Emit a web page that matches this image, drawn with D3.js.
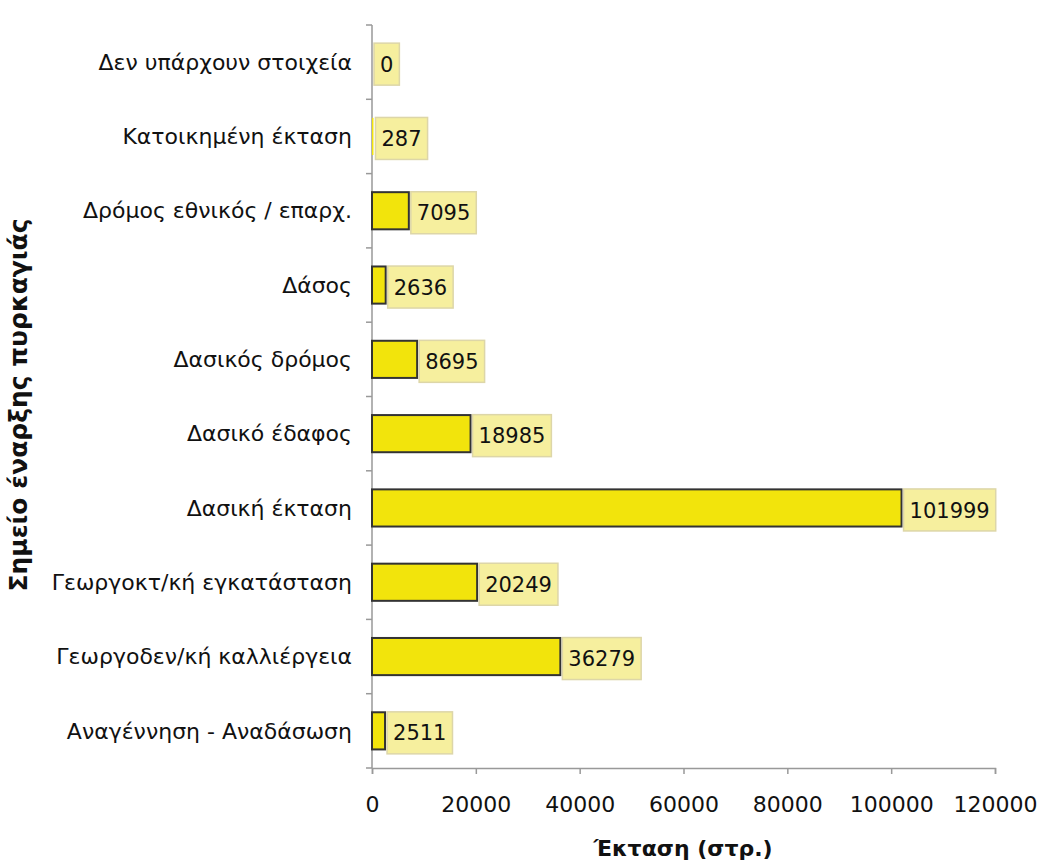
<!DOCTYPE html>
<html>
<head>
<meta charset="utf-8">
<script src="https://cdn.jsdelivr.net/npm/d3@7"></script>
<style>
body { margin: 0; background: #fff; }
text { font-family: "DejaVu Sans", "Open Sans", sans-serif; }
</style>
</head>
<body>
<svg width="1040" height="866"></svg>
<script>
var categories = [
    "Δεν υπάρχουν στοιχεία",
    "Κατοικημένη έκταση",
    "Δρόμος εθνικός / επαρχ.",
    "Δάσος",
    "Δασικός δρόμος",
    "Δασικό έδαφος",
    "Δασική έκταση",
    "Γεωργοκτ/κή εγκατάσταση",
    "Γεωργοδεν/κή καλλιέργεια",
    "Αναγέννηση - Αναδάσωση"
];
var values = [0, 287, 7095, 2636, 8695, 18985, 101999, 20249, 36279, 2511];
var xTicks = [0, 20000, 40000, 60000, 80000, 100000, 120000];

var svg = d3.select("svg");

var x = d3.scaleLinear().domain([0, 120000]).range([372, 995]);
var y = d3.scaleBand().domain(categories).range([25, 768]).paddingInner(0.5).paddingOuter(0.25);
var step = y.step();

// x axis
var xAxis = svg.append("g")
    .attr("transform", "translate(0,768)")
    .call(d3.axisBottom(x).tickValues(xTicks).tickSize(6).tickPadding(22).tickFormat(d3.format("d")));
xAxis.select(".domain").attr("stroke", "#999").attr("stroke-width", 1.5);
xAxis.selectAll(".tick line").attr("stroke", "#999").attr("stroke-width", 1.5);
xAxis.selectAll("text").attr("font-size", 22).attr("fill", "#111")
    .style("font-family", "'DejaVu Sans', sans-serif");

// y axis (line + ticks between categories)
svg.append("line")
    .attr("x1", 372).attr("x2", 372).attr("y1", 25).attr("y2", 768)
    .attr("stroke", "#999").attr("stroke-width", 1.5);
svg.selectAll(".ytick")
    .data(d3.range(categories.length + 1))
    .enter()
    .append("line")
    .attr("x1", 366).attr("x2", 372)
    .attr("y1", i => 25 + i * step)
    .attr("y2", i => 25 + i * step)
    .attr("stroke", "#999").attr("stroke-width", 1.5);

svg.selectAll(".cat")
    .data(categories)
    .enter()
    .append("text")
    .attr("x", 352)
    .attr("y", d => y(d) + y.bandwidth() / 2)
    .attr("dy", "0.35em")
    .attr("text-anchor", "end")
    .attr("font-size", 22)
    .attr("fill", "#111")
    .text(d => d);

// bars
svg.selectAll(".bar")
    .data(values)
    .enter()
    .append("rect")
    .attr("x", x(0))
    .attr("y", (d, i) => y(categories[i]))
    .attr("width", d => x(d) - x(0))
    .attr("height", y.bandwidth())
    .attr("fill", "#f2e40c")
    .attr("stroke", d => x(d) - x(0) > 3 ? "#333" : "none")
    .attr("stroke-width", 2);

// value labels in boxes
var lab = svg.selectAll(".lab")
    .data(values)
    .enter()
    .append("g")
    .attr("transform", (d, i) => "translate(" + (x(d) + 2) + "," + (y(categories[i]) + y.bandwidth() / 2 + 2) + ")");

lab.append("text")
    .attr("x", 6)
    .attr("dy", "0.36em")
    .attr("font-size", 21)
    .attr("fill", "#111")
    .text(d => d);

lab.each(function() {
    var g = d3.select(this);
    var bb = g.select("text").node().getBBox();
    g.insert("rect", "text")
        .attr("x", 0)
        .attr("y", -21)
        .attr("width", bb.width + 12)
        .attr("height", 42)
        .attr("fill", "#f6ef9e")
        .attr("stroke", "#ddd6a8")
        .attr("stroke-width", 1.5);
});

// titles
svg.append("text")
    .attr("x", 683).attr("y", 856)
    .attr("text-anchor", "middle")
    .attr("font-size", 22).attr("font-weight", "bold")
    .attr("fill", "#111")
    .text("Έκταση (στρ.)");

svg.append("text")
    .attr("transform", "translate(27,405) rotate(-90)")
    .attr("text-anchor", "middle")
    .attr("font-size", 25).attr("font-weight", "bold")
    .attr("fill", "#111")
    .text("Σημείο έναρξης πυρκαγιάς");
</script>
</body>
</html>
